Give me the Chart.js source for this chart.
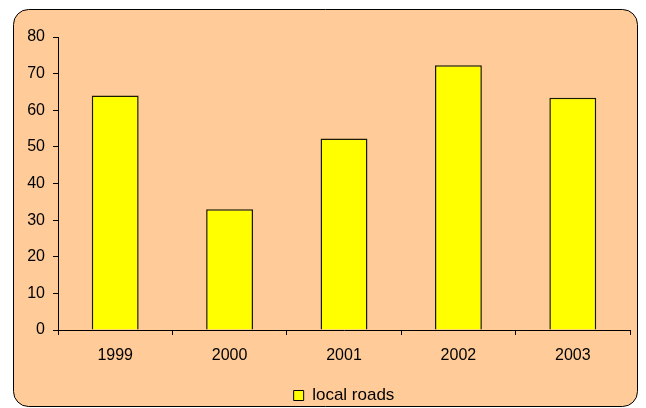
<!DOCTYPE html>
<html>
<head>
<meta charset="utf-8">
<script src="https://cdn.jsdelivr.net/npm/chart.js@4/dist/chart.umd.min.js"></script>
<style>
  html, body { margin: 0; padding: 0; background: #ffffff; }
  #wrap { width: 646px; height: 408px; }
</style>
</head>
<body>
<div id="wrap"><canvas id="roads_chart" width="646" height="408"></canvas></div>
<script>
const years = ["1999", "2000", "2001", "2002", "2003"];
const local_roads = [64, 33, 52.3, 72.3, 63.4];
const y_ticks = [0, 10, 20, 30, 40, 50, 60, 70, 80];

const FONT = "'Liberation Sans', Arial, sans-serif";

// rounded peach panel behind everything
const panel = {
  id: 'panel',
  beforeDraw(chart) {
    const ctx = chart.ctx;
    const x = 13.5, y = 9.5, w = 624, h = 397, r = 15;
    ctx.save();
    ctx.beginPath();
    ctx.moveTo(x + r, y);
    ctx.lineTo(x + w - r, y);
    ctx.arcTo(x + w, y, x + w, y + r, r);
    ctx.lineTo(x + w, y + h - r);
    ctx.arcTo(x + w, y + h, x + w - r, y + h, r);
    ctx.lineTo(x + r, y + h);
    ctx.arcTo(x, y + h, x, y + h - r, r);
    ctx.lineTo(x, y + r);
    ctx.arcTo(x, y, x + r, y, r);
    ctx.closePath();
    ctx.fillStyle = '#ffcc99';
    ctx.fill();
    ctx.lineWidth = 1;
    ctx.strokeStyle = '#000000';
    ctx.stroke();
    ctx.restore();
  }
};

new Chart("roads_chart", {
  type: "bar",
  data: {
    labels: years,
    datasets: [{
      label: "local roads",
      data: local_roads,
      backgroundColor: "#ffff00",
      borderColor: "#1a1a00",
      borderWidth: 1.5,
      barPercentage: 0.41,
      categoryPercentage: 1.0
    }]
  },
  options: {
    responsive: false,
    animation: false,
    layout: { padding: { left: 13, right: 16, top: 37, bottom: 0 } },
    plugins: {
      tooltip: { enabled: false },
      legend: {
        position: 'bottom',
        fullSize: false,
        maxHeight: 23,
        labels: {
          boxWidth: 10,
          boxHeight: 10,
          color: '#000',
          font: { family: FONT, size: 17 },
          padding: 2,
          generateLabels(chart) {
            return [{
              text: "local roads",
              fillStyle: "#ffff00",
              strokeStyle: "#000000",
              lineWidth: 1,
              datasetIndex: 0,
              fontColor: '#000'
            }];
          }
        }
      }
    },
    scales: {
      x: {
        grid: {
          display: true,
          offset: true,
          drawOnChartArea: false,
          drawTicks: true,
          tickLength: 5,
          color: '#000'
        },
        border: { display: true, color: '#000', width: 1 },
        ticks: {
          color: '#000',
          padding: 11,
          font: { family: FONT, size: 16 }
        },
        afterFit(scale) { scale.height = 55; }
      },
      y: {
        min: 0,
        max: 80,
        afterBuildTicks(scale) { scale.ticks = y_ticks.map(v => ({ value: v })); },
        grid: {
          display: true,
          drawOnChartArea: false,
          drawTicks: true,
          tickLength: 5,
          color: '#000'
        },
        border: { display: true, color: '#000', width: 1 },
        ticks: {
          color: '#000',
          padding: 8,
          font: { family: FONT, size: 16 }
        },
        afterFit(scale) { scale.width = 45; }
      }
    }
  },
  plugins: [panel]
});
</script>
</body>
</html>
